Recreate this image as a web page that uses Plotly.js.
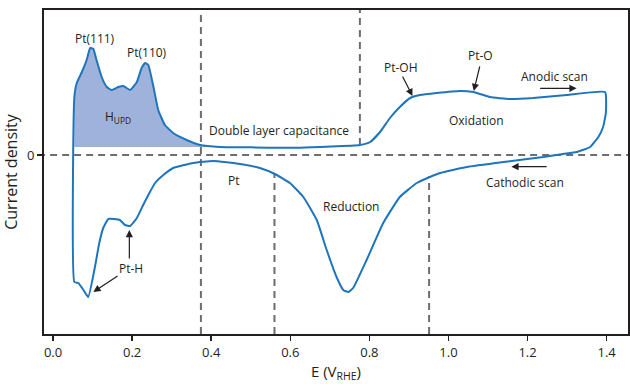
<!DOCTYPE html>
<html><head><meta charset="utf-8">
<script src="https://cdn.plot.ly/plotly-3.0.1.min.js"></script>
<style>html,body{margin:0;padding:0;background:#fff}#chart{width:630px;height:384px}</style>
</head><body><div id="chart"></div>
<script>
// Cyclic voltammogram (closed loop): anodic scan then cathodic scan
const potentialV = [0.054,0.054,0.060,0.073,0.085,0.094,0.102,0.110,0.123,0.136,0.148,0.165,0.178,0.195,0.212,0.224,0.233,0.241,0.254,0.266,0.283,0.304,0.338,0.372,0.422,0.490,0.625,0.776,0.802,0.827,0.852,0.877,0.903,0.928,0.970,1.029,1.063,1.105,1.155,1.214,1.299,1.396,1.398,1.391,1.379,1.358,1.324,1.290,1.240,1.139,1.046,0.979,0.953,0.920,0.877,0.835,0.793,0.759,0.747,0.734,0.717,0.692,0.667,0.633,0.599,0.561,0.523,0.473,0.405,0.355,0.304,0.279,0.258,0.241,0.228,0.212,0.195,0.182,0.169,0.140,0.127,0.117,0.106,0.089,0.077,0.064,0.054];
const currentDensity = [-1.27,0.58,0.72,0.83,0.95,1.07,1.06,0.95,0.78,0.68,0.65,0.68,0.69,0.65,0.73,0.87,0.92,0.90,0.68,0.45,0.30,0.22,0.15,0.10,0.08,0.077,0.073,0.10,0.13,0.23,0.37,0.48,0.57,0.60,0.62,0.64,0.63,0.58,0.56,0.57,0.60,0.63,0.42,0.28,0.18,0.08,0.03,0.01,-0.02,-0.07,-0.12,-0.18,-0.22,-0.28,-0.42,-0.68,-1.05,-1.33,-1.37,-1.35,-1.22,-0.95,-0.65,-0.42,-0.28,-0.19,-0.13,-0.09,-0.06,-0.08,-0.13,-0.20,-0.28,-0.40,-0.50,-0.63,-0.71,-0.70,-0.65,-0.64,-0.73,-0.88,-1.12,-1.42,-1.35,-1.28,-1.27];
const hupdBaseline = 0.08;      // lower edge of shaded H_UPD charge
const hupdEndV = 0.422;         // end of shaded H_UPD region
const regionBoundsV = [0.374, 0.56, 0.776, 0.951];
const regionBoundsFrom = [-1.79, -1.79, 0.10, -1.79];
const regionBoundsTo = [1.45, -0.19, 1.45, -0.21];
const xTicks = [0.0, 0.2, 0.4, 0.6, 0.8, 1.0, 1.2, 1.4];
const yTicks = [0];
const xRange = [-0.0228, 1.454];
const yRange = [-1.79, 1.45];

// Shaded H_UPD polygon built from the anodic branch
const fillX = [], fillY = [];
fillX.push(potentialV[1]); fillY.push(hupdBaseline);
for (let i = 1; i < potentialV.length; i++) {
  if (potentialV[i] > hupdEndV) break;
  fillX.push(potentialV[i]); fillY.push(currentDensity[i]);
}
fillX.push(hupdEndV); fillY.push(hupdBaseline);

const labels = [
  {t:'Pt(111)', x:0.107, y:1.17},
  {t:'Pt(110)', x:0.238, y:1.03},
  {t:'H<sub>UPD</sub>', x:0.165, y:0.38},
  {t:'Double layer capacitance', x:0.571, y:0.25},
  {t:'Pt-OH', x:0.880, y:0.88},
  {t:'Pt-O', x:1.082, y:1.00},
  {t:'Anodic scan', x:1.269, y:0.79},
  {t:'Oxidation', x:1.072, y:0.35},
  {t:'Cathodic scan', x:1.193, y:-0.27},
  {t:'Reduction', x:0.753, y:-0.51},
  {t:'Pt', x:0.458, y:-0.25},
  {t:'Pt-H', x:0.197, y:-1.13}
];
const arrows = [
  {x:0.193, y:-0.75, ax:0.193, ay:-1.05},
  {x:0.102, y:-1.37, ax:0.167, ay:-1.20},
  {x:0.909, y:0.59, ax:0.882, ay:0.80},
  {x:1.064, y:0.64, ax:1.080, ay:0.90},
  {x:1.324, y:0.667, ax:1.228, ay:0.667},
  {x:1.159, y:-0.117, ax:1.252, ay:-0.117}
];

const font = 'Open Sans, Noto Sans, sans-serif';
const txtColor = '#231f20';

const traces = [
  {x:fillX, y:fillY, type:'scatter', mode:'lines', fill:'toself',
   fillcolor:'rgb(158,178,220)', line:{width:0, shape:'spline', smoothing:0.4}, hoverinfo:'skip', showlegend:false},
  {x:potentialV, y:currentDensity, type:'scatter', mode:'lines',
   line:{color:'rgb(30,117,188)', width:2, shape:'spline', smoothing:0.4}, showlegend:false}
];

const shapes = [];
regionBoundsV.forEach((v,i)=>{
  shapes.push({type:'line', xref:'x', yref:'y', x0:v, x1:v, y0:regionBoundsFrom[i], y1:regionBoundsTo[i],
    line:{color:'#6d6e71', width:2, dash:'7px,5px'}, layer:'below'});
});
shapes.push({type:'line', xref:'paper', yref:'y', x0:-0.01, x1:1, y0:0, y1:0,
  line:{color:'#6d6e71', width:2, dash:'7px,5px'}, layer:'below'});

const annotations = labels.map(l=>({x:l.x, y:l.y, xref:'x', yref:'y', text:l.t, showarrow:false,
  font:{family:font, size:12, color:txtColor}}));
arrows.forEach(a=>annotations.push({x:a.x, y:a.y, ax:a.ax, ay:a.ay, axref:'x', ayref:'y', xref:'x', yref:'y',
  text:'', showarrow:true, arrowhead:2, arrowsize:1.2, arrowwidth:1.2, arrowcolor:'#231f20'}));

const layout = {
  width:630, height:384,
  margin:{l:44, r:2, t:10, b:50},
  paper_bgcolor:'#fff', plot_bgcolor:'#fff',
  showlegend:false,
  xaxis:{range:xRange, tickvals:xTicks, tickformat:'.1f', ticks:'outside', ticklen:5, tickwidth:1.5,
    tickcolor:'#231f20', showline:true, linecolor:'#231f20', linewidth:2, mirror:true, showgrid:false, zeroline:false,
    tickfont:{family:font, size:13, color:txtColor},
    title:{text:'E (V<sub>RHE</sub>)', font:{family:font, size:15, color:txtColor}, standoff:5}},
  yaxis:{range:yRange, tickvals:yTicks, ticktext:['0'], ticks:'outside', ticklen:5, tickwidth:1.5,
    tickcolor:'#231f20', showline:true, linecolor:'#231f20', linewidth:2, mirror:true, showgrid:false, zeroline:false,
    tickfont:{family:font, size:13, color:txtColor},
    title:{text:'Current density', font:{family:font, size:16, color:txtColor}, standoff:6}},
  shapes:shapes, annotations:annotations
};
Plotly.newPlot('chart', traces, layout, {displayModeBar:false, staticPlot:true});
</script></body></html>
